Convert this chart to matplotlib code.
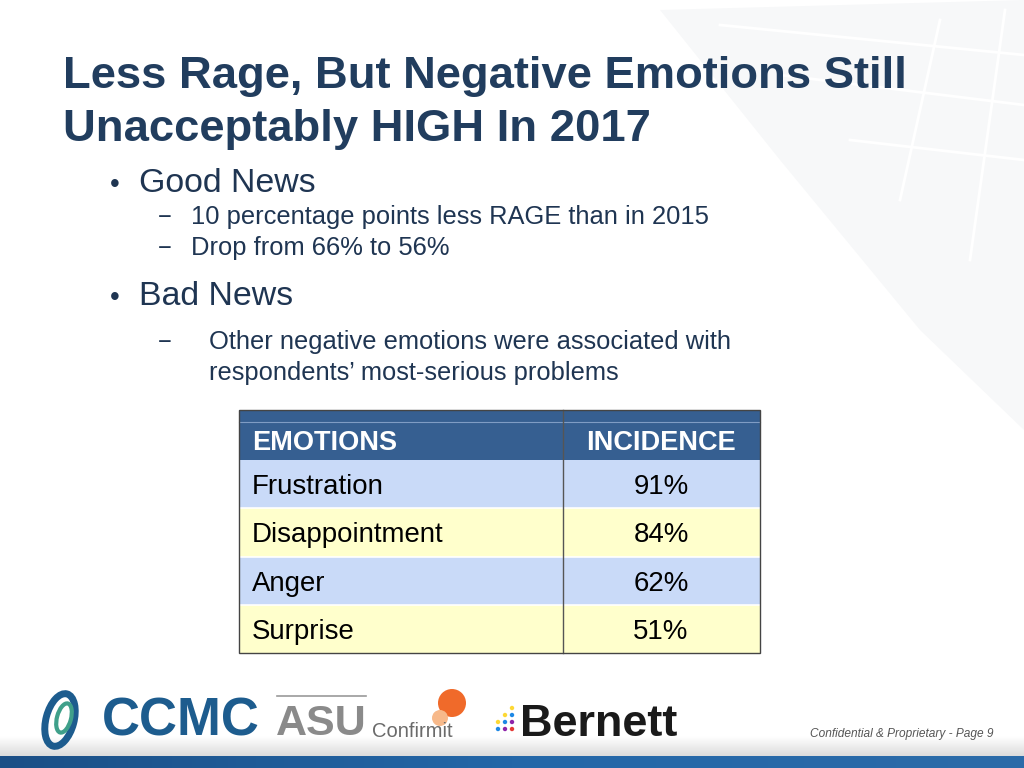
import matplotlib
matplotlib.use("Agg")
import matplotlib.pyplot as plt
from matplotlib.patches import Rectangle, Polygon, Ellipse, Circle
from matplotlib.colors import LinearSegmentedColormap
import numpy as np

# ---- data ----
title_lines = ["Less Rage, But Negative Emotions Still", "Unacceptably HIGH In 2017"]
col_headers = ["EMOTIONS", "INCIDENCE"]
emotions = ["Frustration", "Disappointment", "Anger", "Surprise"]
incidence = [91, 84, 62, 51]
footer_text = "Confidential & Proprietary - Page 9"

NAVY = "#213D5E"
TXT = "#1F3552"
HEADER = "#365F91"
ROW_COLORS = ["#C9DAF8", "#FFFFCC"]
FONT = "Liberation Sans"

fig = plt.figure(figsize=(10.24, 7.68), dpi=100)
ax = fig.add_axes([0, 0, 1, 1])
ax.set_xlim(0, 1024)
ax.set_ylim(768, 0)
ax.axis("off")

# faint background decoration top-right
ax.add_patch(Polygon([[660, 10], [1024, 0], [1024, 430], [920, 330], [780, 160]],
                     closed=True, facecolor="#F7F8F9", edgecolor="none", zorder=0))
for (x1, y1, x2, y2) in [(720, 25, 1024, 55), (780, 75, 1024, 105), (850, 140, 1024, 160),
                         (940, 20, 900, 200), (1005, 10, 970, 260)]:
    ax.plot([x1, x2], [y1, y2], color="white", lw=2, zorder=0.5)

# title
ax.text(63, 88, title_lines[0], fontsize=32.7, fontweight="bold", color=NAVY,
        family=FONT, va="baseline", ha="left")
ax.text(63, 141, title_lines[1], fontsize=32.7, fontweight="bold", color=NAVY,
        family=FONT, va="baseline", ha="left")

# bullets
ax.text(110, 192, "•", fontsize=20, color=TXT, family=FONT, va="baseline")
ax.text(139, 192, "Good News", fontsize=24.4, color=TXT, family=FONT, va="baseline")
ax.text(158, 224, "−", fontsize=17, color=TXT, family=FONT, va="baseline")
ax.text(191, 224, "10 percentage points less RAGE than in 2015", fontsize=18.4, color=TXT,
        family=FONT, va="baseline")
ax.text(158, 255, "−", fontsize=17, color=TXT, family=FONT, va="baseline")
ax.text(191, 255, "Drop from 66% to 56%", fontsize=18.4, color=TXT, family=FONT, va="baseline")
ax.text(110, 305, "•", fontsize=20, color=TXT, family=FONT, va="baseline")
ax.text(139, 305, "Bad News", fontsize=24.4, color=TXT, family=FONT, va="baseline")
ax.text(158, 349, "−", fontsize=17, color=TXT, family=FONT, va="baseline")
ax.text(209, 349, "Other negative emotions were associated with", fontsize=18.4, color=TXT,
        family=FONT, va="baseline")
ax.text(209, 380, "respondents\u2019 most-serious problems", fontsize=18.4, color=TXT,
        family=FONT, va="baseline")

# table
tx0, tx1, tdiv = 239, 760, 563
ty0, hy1 = 410, 460
row_h = 48.3
ax.add_patch(Rectangle((tx0, ty0), tx1 - tx0, hy1 - ty0, facecolor=HEADER, edgecolor="none", zorder=2))
ax.plot([tx0, tx1], [422, 422], color="#7F9CC4", lw=0.8, zorder=3)
ax.text(252, 450, col_headers[0], fontsize=19.5, fontweight="bold", color="white",
        family=FONT, va="baseline", zorder=4)
ax.text(661, 450, col_headers[1], fontsize=19.5, fontweight="bold", color="white",
        family=FONT, va="baseline", ha="center", zorder=4)
for i, (emo, val) in enumerate(zip(emotions, incidence)):
    y = hy1 + i * row_h
    ax.add_patch(Rectangle((tx0, y), tx1 - tx0, row_h, facecolor=ROW_COLORS[i % 2],
                           edgecolor="none", zorder=2))
    if i > 0:
        ax.plot([tx0, tx1], [y, y], color="white", lw=1.2, zorder=3)
    ax.text(252, y + 34, emo, fontsize=19.9, color="black", family=FONT, va="baseline", zorder=4)
    ax.text(661, y + 34, f"{val}%", fontsize=19.9, color="black", family=FONT,
            va="baseline", ha="center", zorder=4)
ty1 = hy1 + len(emotions) * row_h
ax.plot([tdiv, tdiv], [ty0, ty1], color="#555555", lw=1, zorder=3)
ax.add_patch(Rectangle((tx0, ty0), tx1 - tx0, ty1 - ty0, facecolor="none",
                       edgecolor="#444444", lw=1, zorder=5))

# footer gradient bars
grad = np.linspace(0, 1, 256).reshape(1, -1)
ax.imshow(np.linspace(1, 0.86, 64).reshape(-1, 1) * np.ones((1, 2)), cmap="gray", vmin=0, vmax=1,
          extent=[0, 1024, 756, 736], aspect="auto", zorder=1)
bcm = LinearSegmentedColormap.from_list("b", ["#1B4F86", "#2467A8", "#2B6BA9"])
ax.imshow(grad, cmap=bcm, extent=[0, 1024, 768, 756], aspect="auto", zorder=1)
ax.set_xlim(0, 1024)
ax.set_ylim(768, 0)

ax.text(993, 737, footer_text, fontsize=8.6, style="italic", color="#555555", family=FONT,
        ha="right", va="baseline")

# logos (approximations)
ax.add_patch(Ellipse((60, 720), 28, 54, angle=15, facecolor="none", edgecolor="#1D5C8E", lw=5, zorder=3))
ax.add_patch(Ellipse((64, 718), 14, 30, angle=15, facecolor="none", edgecolor="#3FA08A", lw=3, zorder=3))
ax.text(102, 736, "CCMC", fontsize=38, fontweight="bold", color="#1D5C8E", family=FONT,
        va="baseline", zorder=3)
ax.plot([277, 366], [696, 696], color="#9A9A9A", lw=1.2)
ax.text(276, 735, "ASU", fontsize=31, fontweight="bold", color="#8A8A8A", family=FONT,
        va="baseline", zorder=3)
ax.add_patch(Circle((452, 703), 14, facecolor="#F06A2A", edgecolor="none", zorder=2))
ax.add_patch(Circle((440, 718), 8, facecolor="#F7B98A", edgecolor="none", zorder=2))
ax.text(372, 737, "Confirmit", fontsize=14.5, color="#6A6A6A", family=FONT, va="baseline", zorder=3)
dot_cols = ["#E53935", "#FB8C00", "#FDD835", "#1E88E5", "#8E24AA"]
for r in range(4):
    for c in range(3):
        if c + r >= 2 or c == 2:
            ax.add_patch(Circle((498 + c * 7, 708 + r * 7), 2.2,
                                facecolor=dot_cols[(r + c) % 5], edgecolor="none", zorder=3))
ax.text(520, 736, "Bernett", fontsize=32.5, fontweight="bold", color="#1A1A1A", family=FONT,
        va="baseline", zorder=3)

fig.savefig("out.png", dpi=100)
